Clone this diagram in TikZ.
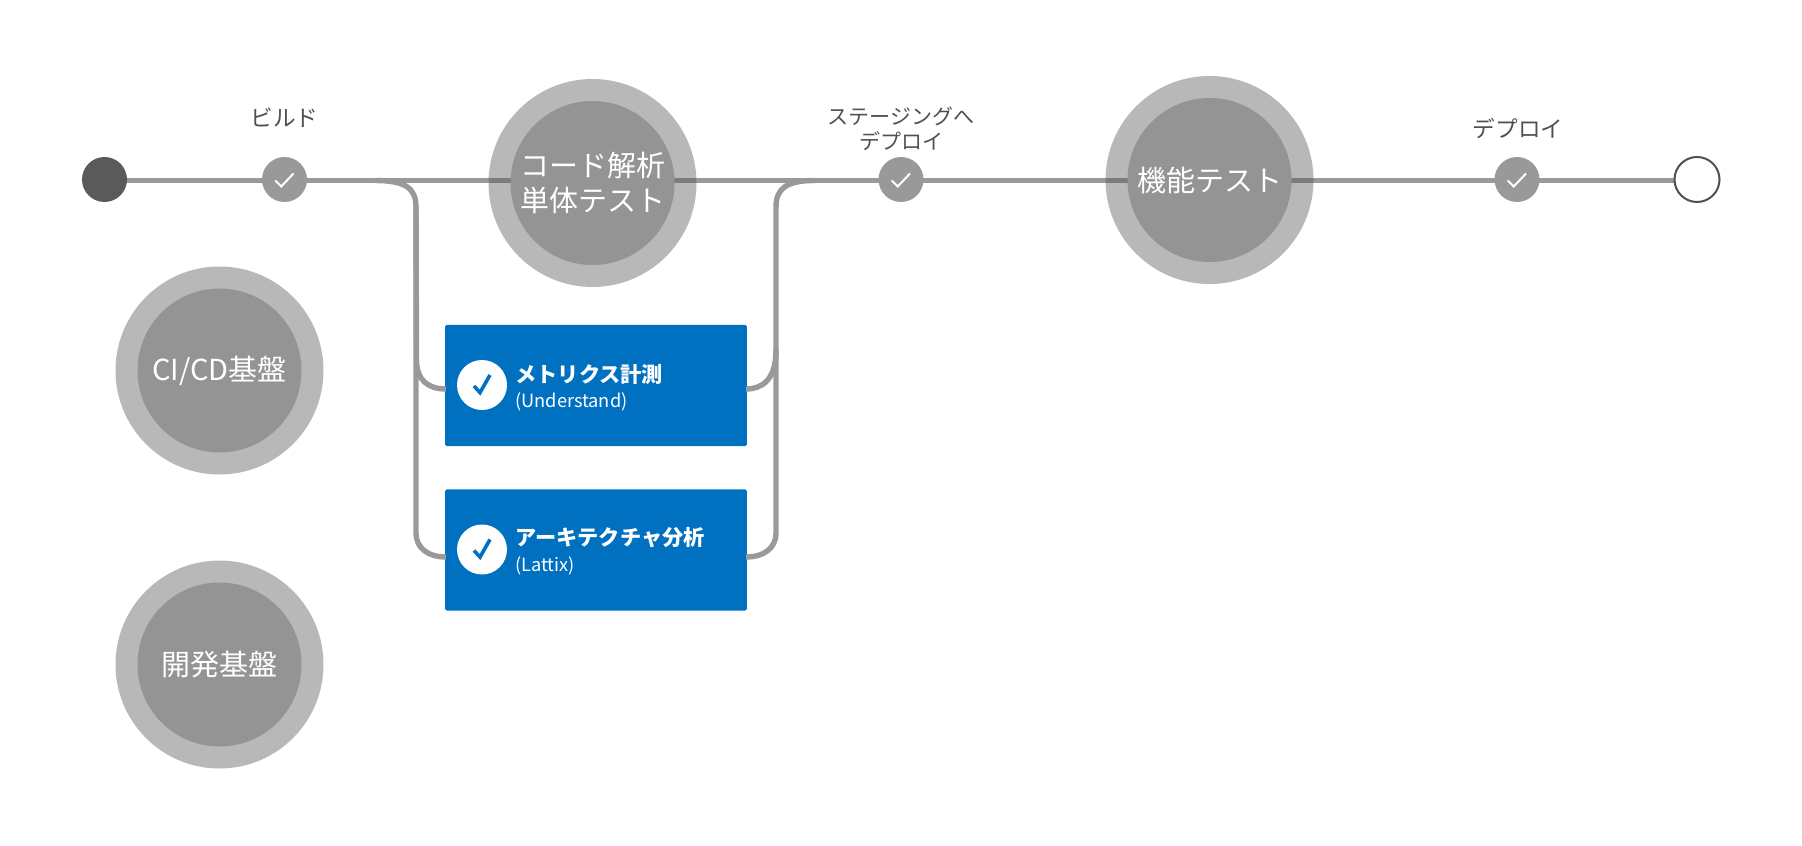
\documentclass[tikz,border=0pt]{standalone}
\usepackage{fontspec}
\usepackage{xcolor}
\setmainfont{Noto Sans CJK JP}
\usetikzlibrary{arrows.meta, positioning, calc}
\definecolor{linegray}{HTML}{999999}
\definecolor{ringgray}{HTML}{565656}
\definecolor{corebg}{HTML}{949494}
\definecolor{startgray}{HTML}{5A5A5A}
\definecolor{labelgray}{HTML}{505050}
\definecolor{boxblue}{HTML}{0070C0}

\begin{document}
\begin{tikzpicture}[
    x=0.5pt, y=-0.5pt,
    pipe/.style={draw=linegray, line width=2.7pt},
    ring/.style={circle, fill=ringgray, fill opacity=0.42, draw=none, inner sep=0pt, minimum size=104pt},
    core/.style={circle, fill=corebg, draw=none, inner sep=0pt, minimum size=82pt, text=white, font=\fontsize{14.5}{17.5}\selectfont, align=center},
    stagedot/.style={circle, fill=linegray, draw=none, inner sep=0pt, minimum size=22.5pt},
    steplabel/.style={font=\fontsize{11.3}{13.5}\selectfont, text=labelgray, align=center},
    taskbox/.style={rectangle, rounded corners=0.8pt, fill=boxblue, draw=none, inner sep=0pt, minimum width=150.8pt, minimum height=60.6pt},
    taskdot/.style={circle, fill=white, draw=none, inner sep=0pt, minimum size=25pt},
    tasktext/.style={anchor=west, inner sep=0pt, text=white, align=left},
    tasktitle/.style={tasktext, font=\fontsize{10.6}{12}\bfseries\selectfont},
    tasksub/.style={tasktext, font=\fontsize{9.1}{10}\selectfont},
    tick/.style={draw=white, line width=1pt},
    bluetick/.style={draw=boxblue, line width=1.8pt}
]
    \useasboundingbox (0,0) rectangle (1802,845);

    % rings go over the pipes, the cores over the rings
    \node[taskbox] (metrics) at (596,385.5) {};
    \node[taskbox] (lattix) at (596,550) {};
    \coordinate (leftup) at (416,207);
    \coordinate (rightup) at (776,207);
    \coordinate (metricsin) at (446,389);
    \coordinate (metricsout) at (746,389);
    \coordinate (lattixin) at (446,557);
    \coordinate (lattixout) at (746,557);

    \draw[pipe] (110,180.5) -- (1680,180.5);
    \draw[pipe] (375,180.5) .. controls (405,180.5) and (416,188) .. (leftup) -- (416.5,360)
        .. controls (416.5,380) and (428,389) .. (metricsin);
    \draw[pipe] (leftup) -- (416,533)
        .. controls (416,548) and (428,557) .. (lattixin);
    \draw[pipe] (815,180.5) .. controls (787,180.5) and (776,188) .. (rightup) -- (776,533)
        .. controls (776,548) and (764,557) .. (lattixout);
    \draw[pipe] (metricsout) .. controls (762,389) and (776,380) .. (776,350);

    \node[ring] (scanring) at (592.5,183) {};
    \node[ring] (testring) at (1209.5,180) {};
    \node[ring] (ciring) at (219.5,370.5) {};
    \node[ring] (devring) at (219.5,664.5) {};
    \node[core] (scan) at (scanring) {コード解析\\単体テスト};
    \node[core] (test) at (testring) {機能テスト};
    \node[core] (ci) at (ciring) {CI/CD基盤};
    \node[core] (dev) at (devring) {開発基盤};

    \node[circle, fill=startgray, inner sep=0pt, minimum size=22.5pt] (start) at (104.5,179.5) {};
    \node[circle, fill=white, draw=labelgray, line width=1pt, inner sep=0pt, minimum size=22.5pt] (finish) at (1697,179.5) {};

    \foreach \name/\px in {build/284.5, staging/901, deploy/1517} {
        \node[stagedot] (\name) at (\px,179.5) {};
        \draw[tick] ($(\name)+(-9.3,1)$) -- ($(\name)+(-3.3,7)$) -- ($(\name)+(9,-6)$);
    }
    \node[steplabel] (buildlabel) at (284.5,117.5) {ビルド};
    \node[steplabel, font=\fontsize{10.5}{12.6}\selectfont] (staginglabel) at (901,128.5) {ステージングへ\\デプロイ};
    \node[steplabel] (deploylabel) at (1518,128.5) {デプロイ};

    \node[taskdot] (metricsdot) at (482,385) {};
    \node[taskdot] (lattixdot) at (482,549.5) {};
    \foreach \name in {metricsdot, lattixdot} {
        \draw[bluetick] ($(\name)+(-8,1)$) -- ($(\name)+(-2,7.6)$) -- ($(\name)+(8,-10)$);
    }

    \node[tasktitle] (metricstitle) at (515,374) {メトリクス計測};
    \node[tasksub] (metricssub) at (515,401.5) {(Understand)};
    \node[tasktitle] (lattixtitle) at (515,538) {アーキテクチャ分析};
    \node[tasksub] (lattixsub) at (515,565.5) {(Lattix)};
\end{tikzpicture}
\end{document}
